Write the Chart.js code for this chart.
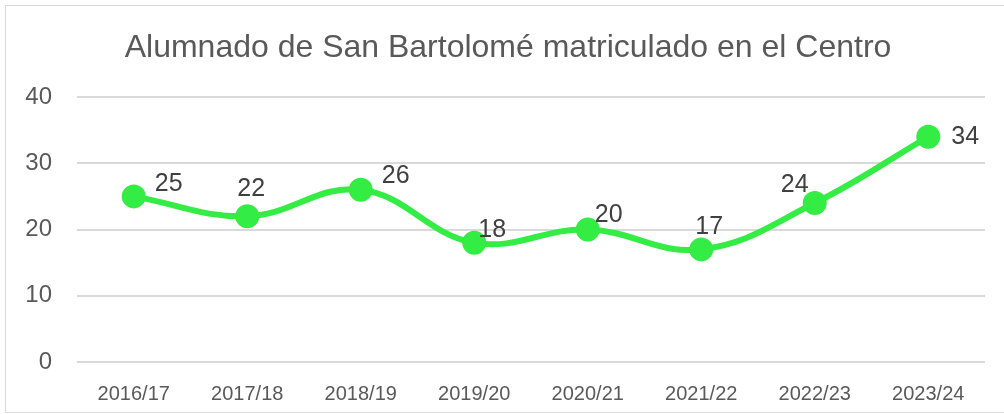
<!DOCTYPE html>
<html>
<head>
<meta charset="utf-8">
<script src="https://cdn.jsdelivr.net/npm/chart.js@4/dist/chart.umd.min.js"></script>
<style>
  body { margin: 0; background: #fff; overflow: hidden; }
  #box { position: absolute; left: 5px; top: 5px; width: 1010px; height: 406px; border: 1px solid #d9d9d9; }
  #box canvas { position: absolute; left: 0; top: 0; }
</style>
</head>
<body>
<div id="box"><canvas id="chart" width="1000" height="406"></canvas></div>
<script>
var chartTitle = 'Alumnado de San Bartolomé matriculado en el Centro';
var courses = ['2016/17', '2017/18', '2018/19', '2019/20', '2020/21', '2021/22', '2022/23', '2023/24'];
var students = [25, 22, 26, 18, 20, 17, 24, 34];
var yTicks = [0, 10, 20, 30, 40];

// hand-placed offsets of each value label, like the original
var labelOffsets = [[35, -12], [4, -27], [35, -14], [18, -13], [21, -14], [8, -22], [-20, -18], [37, 0]];

var valueLabels = {
    id: 'valueLabels',
    afterDatasetsDraw: function (chart) {
        var ctx = chart.ctx;
        var meta = chart.getDatasetMeta(0);
        ctx.save();
        ctx.font = '25px "Liberation Sans", Arial, sans-serif';
        ctx.fillStyle = '#404040';
        ctx.textAlign = 'center';
        ctx.textBaseline = 'middle';
        meta.data.forEach(function (pt, i) {
            var off = labelOffsets[i];
            ctx.fillText(String(students[i]), pt.x + off[0], pt.y + off[1]);
        });
        ctx.restore();
    }
};

// title centred on the whole frame, as in the spreadsheet chart
var frameTitle = {
    id: 'frameTitle',
    afterDraw: function (chart) {
        var ctx = chart.ctx;
        ctx.save();
        ctx.font = '32px "Liberation Sans", Arial, sans-serif';
        ctx.fillStyle = '#595959';
        ctx.textAlign = 'center';
        ctx.textBaseline = 'middle';
        ctx.fillText(chartTitle, 502, 42);
        ctx.restore();
    }
};

const data = {
    labels: courses,
    datasets: [{
        data: students,
        borderColor: '#33ec44',
        backgroundColor: '#33ec44',
        borderWidth: 6,
        pointRadius: 9,
        pointHoverRadius: 9,
        tension: 0.4,
        fill: false
    }]
};

const config = {
    type: 'line',
    data,
    options: {
        responsive: false,
        animation: false,
        layout: { padding: { top: 91, right: 21 } },
        plugins: {
            legend: { display: false },
            tooltip: { enabled: false },
            title: { display: false }
        },
        scales: {
            x: {
                offset: true,
                grid: { display: false },
                border: { display: false },
                ticks: {
                    color: '#595959',
                    padding: 12,
                    maxRotation: 0,
                    font: { family: '"Liberation Sans", Arial, sans-serif', size: 20 }
                },
                afterFit: function (scale) { scale.height = 50; }
            },
            y: {
                min: 0,
                max: 40,
                afterBuildTicks: function (scale) {
                    scale.ticks = yTicks.map(function (v) { return { value: v }; });
                },
                grid: { color: '#d9d9d9', lineWidth: 2, drawTicks: false },
                border: { display: false },
                ticks: {
                    color: '#595959',
                    padding: 25,
                    font: { family: '"Liberation Sans", Arial, sans-serif', size: 24 }
                },
                afterFit: function (scale) { scale.width = 71; }
            }
        }
    },
    plugins: [valueLabels, frameTitle]
};

var myChart = new Chart(document.getElementById('chart'), config);
</script>
</body>
</html>
